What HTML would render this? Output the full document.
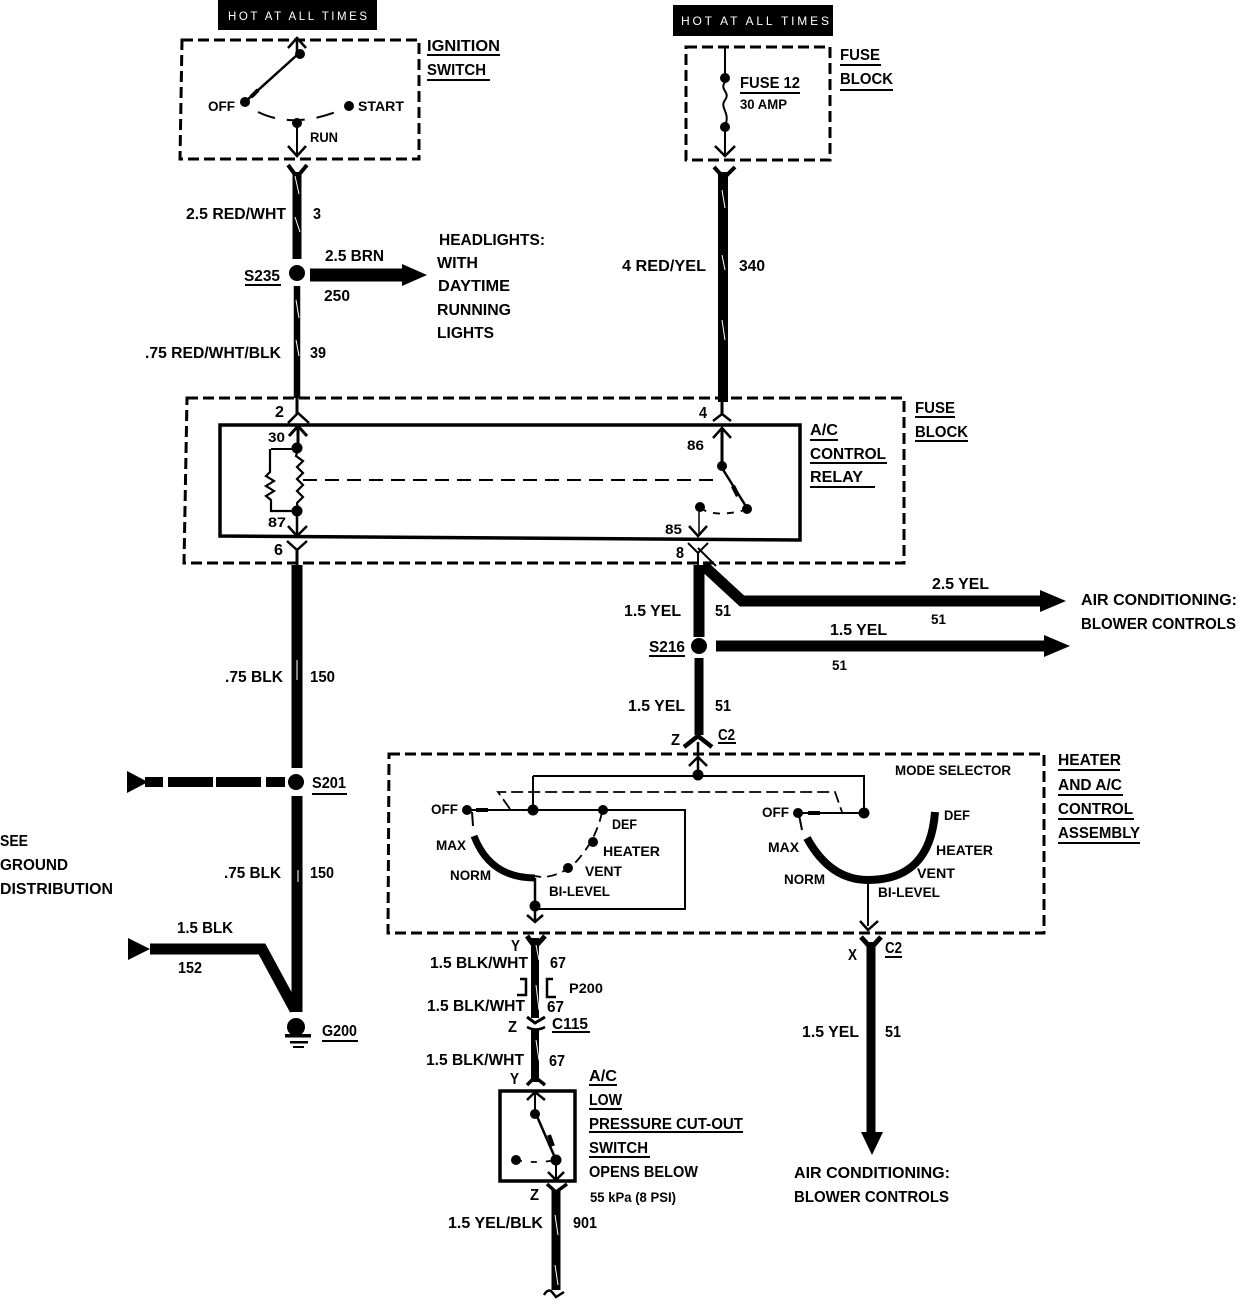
<!DOCTYPE html>
<html><head><meta charset="utf-8"><style>
html,body{margin:0;padding:0;background:#fff}
svg{display:block}
text{font-family:"Liberation Sans",sans-serif;font-weight:bold;font-size:16px;fill:#000}
.n{font-weight:normal}
.s{font-size:13.5px}
</style></head><body>
<svg width="1248" height="1300" viewBox="0 0 1248 1300" xmlns="http://www.w3.org/2000/svg">
<rect width="1248" height="1300" fill="#fff"/>
<!-- hot boxes -->
<rect x="218" y="0" width="159" height="30" fill="#000"/>
<rect x="673" y="5" width="160" height="31" fill="#000"/>
<text x="228" y="20" textLength="139" class="n" style="fill:#fff;font-size:11.5px">HOT AT ALL TIMES</text>
<text x="681" y="25" textLength="148" class="n" style="fill:#fff;font-size:12px">HOT AT ALL TIMES</text>

<g fill="none" stroke="#000">
<!-- dashed boxes -->
<g stroke-width="3" stroke-dasharray="11 5">
<path d="M182 40H419V159H180Z"/>
<path d="M686 47H830V160H686Z"/>
<path d="M187 398H904V563H184Z"/>
<path d="M389 754H1044V933H388Z"/>
</g>
<!-- relay & switch boxes -->
<path d="M220 425H800V540L220 536Z" stroke-width="3.5"/>
<path d="M500 1091H575V1181H500Z" stroke-width="3.5"/>
<path d="M535 810H685V909H535" stroke-width="2"/>

<!-- ignition switch -->
<path d="M297 40V55L246 101" stroke-width="2.5"/>
<path d="M288 48L297 38L306 48" stroke-width="2.5"/>
<path d="M258 112Q297 131 350 106" stroke-width="2" stroke-dasharray="18 12"/>
<path d="M297 124V157" stroke-width="2"/>
<path d="M288 146L297 156L306 146" stroke-width="2.5"/>

<!-- top Ys -->
<path d="M288 165L297 177L307 165" stroke-width="4"/>
<path d="M714 167L724 178L735 167" stroke-width="4"/>
<!-- fuse block inner -->
<path d="M725 47V76" stroke-width="2"/>
<path d="M725 82C719 90 731 92 725 100C719 108 731 112 725 126" stroke-width="2"/>
<path d="M725 128V156" stroke-width="2"/>
<path d="M715 146L725 156L735 146" stroke-width="2.5"/>

<!-- wires -->
<path d="M297 172V259" stroke-width="9"/>
<path d="M297 286V398" stroke-width="6.500"/>
<path d="M310 275H406" stroke-width="13"/>
<path d="M723 172V402" stroke-width="10"/>
<path d="M297 565V768" stroke-width="11"/>
<path d="M297 796V1012" stroke-width="11"/>
<path d="M699 565V637" stroke-width="11"/>
<path d="M699 658V735" stroke-width="9"/>
<path d="M703 565L742 601H1045" stroke-width="11"/>
<path d="M716 646H1046" stroke-width="11"/>
<path d="M145 782H163M168 782H213M216 782H261M266 782H285" stroke-width="10"/>
<path d="M150 949H262L295 1010" stroke-width="11"/>
<path d="M535 938V1018" stroke-width="8"/>
<path d="M535 1030V1082" stroke-width="8"/>
<path d="M871 942V1135" stroke-width="9"/>
<path d="M556 1190V1290" stroke-width="9"/>

<!-- connectors relay -->
<path d="M297 398V414" stroke-width="3"/>
<path d="M288 423L298 413L309 423" stroke-width="2.500"/>
<path d="M298 426V447" stroke-width="3"/>
<path d="M289 436L298 426L307 436" stroke-width="3"/>
<path d="M271 449H297" stroke-width="2"/>
<path d="M270 449V472L266 476L274 481L266 486L274 491L266 496L271 500V511H297" stroke-width="2.200"/>
<path d="M298 449L296 456L303 461L297 467L303 473L297 479L303 485L297 491L303 497L297 503L298 511" stroke-width="2.200"/>
<path d="M303 480H720" stroke-width="2" stroke-dasharray="14 8"/>
<path d="M297 512V535" stroke-width="2.500"/>
<path d="M288 526L297 536L307 526" stroke-width="2.500"/>
<path d="M287 541L297 550L307 541" stroke-width="2.500"/>
<path d="M297 550V566" stroke-width="3"/>

<path d="M722 402V415" stroke-width="3"/>
<path d="M713 421L722 414L731 421" stroke-width="2.500"/>
<path d="M722 428V466" stroke-width="3"/>
<path d="M713 438L722 428L731 438" stroke-width="2.500"/>
<path d="M722 468L747 508" stroke-width="2.500"/>
<path d="M700 508Q715 518 745 510" stroke-width="1.800" stroke-dasharray="7 7"/>
<path d="M699 510V535" stroke-width="1.500"/>
<path d="M689 526L698 536L707 526" stroke-width="2.500"/>
<path d="M688 543L698 553L708 543M698 553V566M698 548L716 566" stroke-width="2"/>

<!-- mode selector -->
<path d="M698 742V775" stroke-width="2.500"/>
<path d="M684 747L698 736L712 747" stroke-width="4.500"/>
<path d="M689 766L698 757L707 766" stroke-width="2.500"/>
<path d="M533 776H697H864V812" stroke-width="2"/>
<path d="M533 776V810" stroke-width="2"/>
<path d="M468 810H533" stroke-width="2"/>
<path d="M865 813H800" stroke-width="2"/>
<path d="M510 809L498 792H835L842 812" stroke-width="1.800" stroke-dasharray="12 5"/>
<path d="M472 812L473 826" stroke-width="2"/>
<path d="M602 812Q596 842 572 866Q552 880 535 876" stroke-width="1.800" stroke-dasharray="10 6"/>
<path d="M474 836Q490 878 535 878" stroke-width="7"/>
<path d="M535 878V910" stroke-width="2.500"/>
<path d="M527 915L535 922L543 915M535 908V922" stroke-width="2.500"/>
<path d="M799 815L802 830" stroke-width="2"/>
<path d="M807 838Q830 880 868 880Q930 880 935 812" stroke-width="8"/>
<path d="M868 880V926" stroke-width="2"/>
<path d="M860 921L868 930L878 921" stroke-width="2.500"/>
<path d="M861 937L871 948L881 937" stroke-width="5"/>
<path d="M527 936L535 947L545 936" stroke-width="5"/>

<!-- lower connectors -->
<path d="M520 979H526V995H517" stroke-width="2.500"/>
<path d="M553 979H547V997H556" stroke-width="2.500"/>
<path d="M527 1017L535 1023L545 1017" stroke-width="3"/>
<path d="M527 1027Q536 1032 545 1027" stroke-width="2.500"/>
<path d="M527 1085L535 1077L545 1085" stroke-width="3.500"/>
<path d="M535 1093V1114" stroke-width="2"/>
<path d="M527 1100L535 1092L545 1100" stroke-width="2.500"/>
<path d="M536 1114L556 1160" stroke-width="2.500"/>
<path d="M516 1160Q535 1164 556 1160" stroke-width="1.800" stroke-dasharray="6 9"/>
<path d="M556 1160V1180" stroke-width="2"/>
<path d="M548 1172L556 1180L564 1172" stroke-width="2.500"/>
<path d="M547 1184L556 1192L567 1184" stroke-width="3.500"/>
<path d="M544 1295Q548 1288 552 1292L556 1297L564 1292" stroke-width="2.500"/>
<path d="M476 810L488 810" stroke-width="4"/>
<path d="M808 813L820 813" stroke-width="4"/>
<path d="M258 90L251 97" stroke-width="4"/>
<path d="M733 486L738 496" stroke-width="4.500"/>
<path d="M549 1135L553 1146" stroke-width="4"/>
</g>

<!-- white slashes -->
<g stroke="#fff" stroke-width="1" fill="none">
<path d="M295 176L299 194M295 217L300 232M296 300L299 318M296 340L299 356M722 190L725 208M722 255L725 270M722 320L725 340M297 660L297 680M298 870L298 882M536 945L539 960M536 985L539 1010M536 1040L539 1060M555 1215L558 1235M555 1265L558 1285"/>
</g>

<!-- dots -->
<g fill="#000">
<circle cx="297" cy="273" r="8"/>
<circle cx="300" cy="54" r="5"/>
<circle cx="245" cy="102" r="5"/>
<circle cx="297" cy="123" r="5"/>
<circle cx="349" cy="106" r="5"/>
<circle cx="725" cy="78" r="5"/>
<circle cx="725" cy="127" r="5"/>
<circle cx="297" cy="448" r="5.500"/>
<circle cx="297" cy="511" r="5.500"/>
<circle cx="722" cy="466" r="5"/>
<circle cx="747" cy="509" r="5"/>
<circle cx="700" cy="507" r="5"/>
<circle cx="699" cy="646" r="8"/>
<circle cx="296" cy="782" r="8"/>
<circle cx="698" cy="775" r="5.500"/>
<circle cx="533" cy="810" r="5.500"/>
<circle cx="467" cy="810" r="5"/>
<circle cx="603" cy="810" r="5"/>
<circle cx="593" cy="842" r="5"/>
<circle cx="568" cy="868" r="5"/>
<circle cx="535" cy="906" r="5.500"/>
<circle cx="798" cy="813" r="5"/>
<circle cx="864" cy="813" r="5.500"/>
<circle cx="535" cy="1114" r="5"/>
<circle cx="516" cy="1160" r="5"/>
<circle cx="556" cy="1160" r="5.500"/>
<circle cx="296" cy="1027" r="9"/>
<!-- arrowheads -->
<path d="M402 264L427 275L402 286Z"/>
<path d="M1040 590L1066 601L1040 612Z"/>
<path d="M1044 635L1070 646L1044 657Z"/>
<path d="M127 771L148 782L127 793Z"/>
<path d="M128 938L150 949L128 960Z"/>
<path d="M861 1132H883L872 1155Z"/>
<!-- ground -->
<rect x="285" y="1034" width="26" height="3.500"/>
<rect x="290" y="1041" width="18" height="2.500"/>
<rect x="293" y="1046" width="11" height="2"/>
</g>

<!-- underlines -->
<g stroke="#000" stroke-width="2" fill="none">
<path d="M427 55H500M427 80H490M840 65H881M840 90H893M740 93H800M245 285H281M915 417H955M915 441H968M810 440H838M810 463H887M810 487H875M1058 770H1120M1058 795H1123M1058 819H1134M1058 843H1140M649 656H685M312 794H347M322 1041H358M552 1032H590M718 743H736M885 957H902M589 1085H617M589 1109H622M589 1132H743M589 1157H650"/>
</g>

<!-- labels -->
<g>
<text x="427" y="51" textLength="73" lengthAdjust="spacingAndGlyphs">IGNITION</text>
<text x="427" y="75" textLength="59" lengthAdjust="spacingAndGlyphs">SWITCH</text>
<text x="208" y="111" textLength="27" lengthAdjust="spacingAndGlyphs" class="s">OFF</text>
<text x="358" y="111" textLength="46" lengthAdjust="spacingAndGlyphs" class="s">START</text>
<text x="310" y="142" textLength="28" lengthAdjust="spacingAndGlyphs" class="s">RUN</text>
<text x="840" y="60" textLength="40" lengthAdjust="spacingAndGlyphs">FUSE</text>
<text x="840" y="84" textLength="53" lengthAdjust="spacingAndGlyphs">BLOCK</text>
<text x="740" y="88" textLength="60" lengthAdjust="spacingAndGlyphs">FUSE 12</text>
<text x="740" y="109" textLength="47" lengthAdjust="spacingAndGlyphs" class="s">30 AMP</text>
<text x="186" y="219" textLength="100" lengthAdjust="spacingAndGlyphs">2.5 RED/WHT</text>
<text x="313" y="219" textLength="8" lengthAdjust="spacingAndGlyphs">3</text>
<text x="325" y="261" textLength="59" lengthAdjust="spacingAndGlyphs">2.5 BRN</text>
<text x="324" y="301" textLength="26" lengthAdjust="spacingAndGlyphs">250</text>
<text x="244" y="281" textLength="36" lengthAdjust="spacingAndGlyphs">S235</text>
<text x="439" y="245" textLength="106" lengthAdjust="spacingAndGlyphs">HEADLIGHTS:</text>
<text x="437" y="268" textLength="41" lengthAdjust="spacingAndGlyphs">WITH</text>
<text x="438" y="291" textLength="72" lengthAdjust="spacingAndGlyphs">DAYTIME</text>
<text x="437" y="315" textLength="74" lengthAdjust="spacingAndGlyphs">RUNNING</text>
<text x="437" y="338" textLength="57" lengthAdjust="spacingAndGlyphs">LIGHTS</text>
<text x="622" y="271" textLength="84" lengthAdjust="spacingAndGlyphs">4 RED/YEL</text>
<text x="739" y="271" textLength="26" lengthAdjust="spacingAndGlyphs">340</text>
<text x="145" y="358" textLength="136" lengthAdjust="spacingAndGlyphs">.75 RED/WHT/BLK</text>
<text x="310" y="358" textLength="16" lengthAdjust="spacingAndGlyphs">39</text>
<text x="915" y="413" textLength="40" lengthAdjust="spacingAndGlyphs">FUSE</text>
<text x="915" y="437" textLength="53" lengthAdjust="spacingAndGlyphs">BLOCK</text>
<text x="810" y="435" textLength="28" lengthAdjust="spacingAndGlyphs">A/C</text>
<text x="810" y="459" textLength="76" lengthAdjust="spacingAndGlyphs">CONTROL</text>
<text x="810" y="482" textLength="53" lengthAdjust="spacingAndGlyphs">RELAY</text>
<text x="275" y="417" textLength="9" lengthAdjust="spacingAndGlyphs">2</text>
<text x="699" y="418" textLength="8" lengthAdjust="spacingAndGlyphs">4</text>
<text x="268" y="442" textLength="17" lengthAdjust="spacingAndGlyphs" class="s">30</text>
<text x="687" y="450" textLength="17" lengthAdjust="spacingAndGlyphs" class="s">86</text>
<text x="268" y="527" textLength="18" lengthAdjust="spacingAndGlyphs" class="s">87</text>
<text x="665" y="534" textLength="17" lengthAdjust="spacingAndGlyphs" class="s">85</text>
<text x="274" y="555" textLength="9" lengthAdjust="spacingAndGlyphs">6</text>
<text x="676" y="558" textLength="8" lengthAdjust="spacingAndGlyphs">8</text>
<text x="624" y="616" textLength="57" lengthAdjust="spacingAndGlyphs">1.5 YEL</text>
<text x="715" y="616" textLength="16" lengthAdjust="spacingAndGlyphs">51</text>
<text x="932" y="589" textLength="57" lengthAdjust="spacingAndGlyphs">2.5 YEL</text>
<text x="931" y="624" textLength="15" lengthAdjust="spacingAndGlyphs" class="s">51</text>
<text x="1081" y="605" textLength="156" lengthAdjust="spacingAndGlyphs">AIR CONDITIONING:</text>
<text x="1081" y="629" textLength="155" lengthAdjust="spacingAndGlyphs">BLOWER CONTROLS</text>
<text x="830" y="635" textLength="57" lengthAdjust="spacingAndGlyphs">1.5 YEL</text>
<text x="832" y="670" textLength="15" lengthAdjust="spacingAndGlyphs" class="s">51</text>
<text x="649" y="652" textLength="36" lengthAdjust="spacingAndGlyphs">S216</text>
<text x="628" y="711" textLength="57" lengthAdjust="spacingAndGlyphs">1.5 YEL</text>
<text x="715" y="711" textLength="16" lengthAdjust="spacingAndGlyphs">51</text>
<text x="225" y="682" textLength="58" lengthAdjust="spacingAndGlyphs">.75 BLK</text>
<text x="310" y="682" textLength="25" lengthAdjust="spacingAndGlyphs">150</text>
<text x="671" y="745" textLength="9" lengthAdjust="spacingAndGlyphs">Z</text>
<text x="718" y="740" textLength="17" lengthAdjust="spacingAndGlyphs">C2</text>
<text x="312" y="788" textLength="34" lengthAdjust="spacingAndGlyphs">S201</text>
<text x="224" y="878" textLength="57" lengthAdjust="spacingAndGlyphs">.75 BLK</text>
<text x="310" y="878" textLength="24" lengthAdjust="spacingAndGlyphs">150</text>
<text x="0" y="846" textLength="28" lengthAdjust="spacingAndGlyphs">SEE</text>
<text x="0" y="870" textLength="68" lengthAdjust="spacingAndGlyphs">GROUND</text>
<text x="0" y="894" textLength="113" lengthAdjust="spacingAndGlyphs">DISTRIBUTION</text>
<text x="177" y="933" textLength="56" lengthAdjust="spacingAndGlyphs">1.5 BLK</text>
<text x="178" y="973" textLength="24" lengthAdjust="spacingAndGlyphs">152</text>
<text x="322" y="1036" textLength="35" lengthAdjust="spacingAndGlyphs">G200</text>
<text x="895" y="775" textLength="116" lengthAdjust="spacingAndGlyphs" class="s">MODE SELECTOR</text>
<text x="1058" y="765" textLength="63" lengthAdjust="spacingAndGlyphs">HEATER</text>
<text x="1058" y="790" textLength="64" lengthAdjust="spacingAndGlyphs">AND A/C</text>
<text x="1058" y="814" textLength="75" lengthAdjust="spacingAndGlyphs">CONTROL</text>
<text x="1058" y="838" textLength="82" lengthAdjust="spacingAndGlyphs">ASSEMBLY</text>
<text x="431" y="814" textLength="27" lengthAdjust="spacingAndGlyphs" class="s">OFF</text>
<text x="612" y="829" textLength="25" lengthAdjust="spacingAndGlyphs" class="s">DEF</text>
<text x="436" y="850" textLength="30" lengthAdjust="spacingAndGlyphs" class="s">MAX</text>
<text x="603" y="856" textLength="57" lengthAdjust="spacingAndGlyphs" class="s">HEATER</text>
<text x="450" y="880" textLength="41" lengthAdjust="spacingAndGlyphs" class="s">NORM</text>
<text x="585" y="876" textLength="37" lengthAdjust="spacingAndGlyphs" class="s">VENT</text>
<text x="549" y="896" textLength="61" lengthAdjust="spacingAndGlyphs" class="s">BI-LEVEL</text>
<text x="762" y="817" textLength="27" lengthAdjust="spacingAndGlyphs" class="s">OFF</text>
<text x="944" y="820" textLength="26" lengthAdjust="spacingAndGlyphs" class="s">DEF</text>
<text x="768" y="852" textLength="31" lengthAdjust="spacingAndGlyphs" class="s">MAX</text>
<text x="784" y="884" textLength="41" lengthAdjust="spacingAndGlyphs" class="s">NORM</text>
<text x="936" y="855" textLength="57" lengthAdjust="spacingAndGlyphs" class="s">HEATER</text>
<text x="917" y="878" textLength="38" lengthAdjust="spacingAndGlyphs" class="s">VENT</text>
<text x="878" y="897" textLength="62" lengthAdjust="spacingAndGlyphs" class="s">BI-LEVEL</text>
<text x="511" y="951" textLength="9" lengthAdjust="spacingAndGlyphs">Y</text>
<text x="430" y="968" textLength="98" lengthAdjust="spacingAndGlyphs">1.5 BLK/WHT</text>
<text x="550" y="968" textLength="16" lengthAdjust="spacingAndGlyphs">67</text>
<text x="569" y="993" textLength="34" lengthAdjust="spacingAndGlyphs" class="s">P200</text>
<text x="427" y="1011" textLength="98" lengthAdjust="spacingAndGlyphs">1.5 BLK/WHT</text>
<text x="547" y="1012" textLength="17" lengthAdjust="spacingAndGlyphs">67</text>
<text x="508" y="1032" textLength="9" lengthAdjust="spacingAndGlyphs">Z</text>
<text x="552" y="1029" textLength="36" lengthAdjust="spacingAndGlyphs">C115</text>
<text x="426" y="1065" textLength="98" lengthAdjust="spacingAndGlyphs">1.5 BLK/WHT</text>
<text x="549" y="1066" textLength="16" lengthAdjust="spacingAndGlyphs">67</text>
<text x="510" y="1084" textLength="9" lengthAdjust="spacingAndGlyphs">Y</text>
<text x="589" y="1081" textLength="28" lengthAdjust="spacingAndGlyphs">A/C</text>
<text x="589" y="1105" textLength="33" lengthAdjust="spacingAndGlyphs">LOW</text>
<text x="589" y="1129" textLength="154" lengthAdjust="spacingAndGlyphs">PRESSURE CUT-OUT</text>
<text x="589" y="1153" textLength="59" lengthAdjust="spacingAndGlyphs">SWITCH</text>
<text x="589" y="1177" textLength="109" lengthAdjust="spacingAndGlyphs">OPENS BELOW</text>
<text x="590" y="1202" textLength="86" lengthAdjust="spacingAndGlyphs" class="s">55 kPa (8 PSI)</text>
<text x="530" y="1200" textLength="9" lengthAdjust="spacingAndGlyphs">Z</text>
<text x="448" y="1228" textLength="95" lengthAdjust="spacingAndGlyphs">1.5 YEL/BLK</text>
<text x="573" y="1228" textLength="24" lengthAdjust="spacingAndGlyphs">901</text>
<text x="848" y="960" textLength="9" lengthAdjust="spacingAndGlyphs">X</text>
<text x="885" y="953" textLength="17" lengthAdjust="spacingAndGlyphs">C2</text>
<text x="802" y="1037" textLength="57" lengthAdjust="spacingAndGlyphs">1.5 YEL</text>
<text x="885" y="1037" textLength="16" lengthAdjust="spacingAndGlyphs">51</text>
<text x="794" y="1178" textLength="156" lengthAdjust="spacingAndGlyphs">AIR CONDITIONING:</text>
<text x="794" y="1202" textLength="155" lengthAdjust="spacingAndGlyphs">BLOWER CONTROLS</text>
</g>
</svg>
</body></html>
